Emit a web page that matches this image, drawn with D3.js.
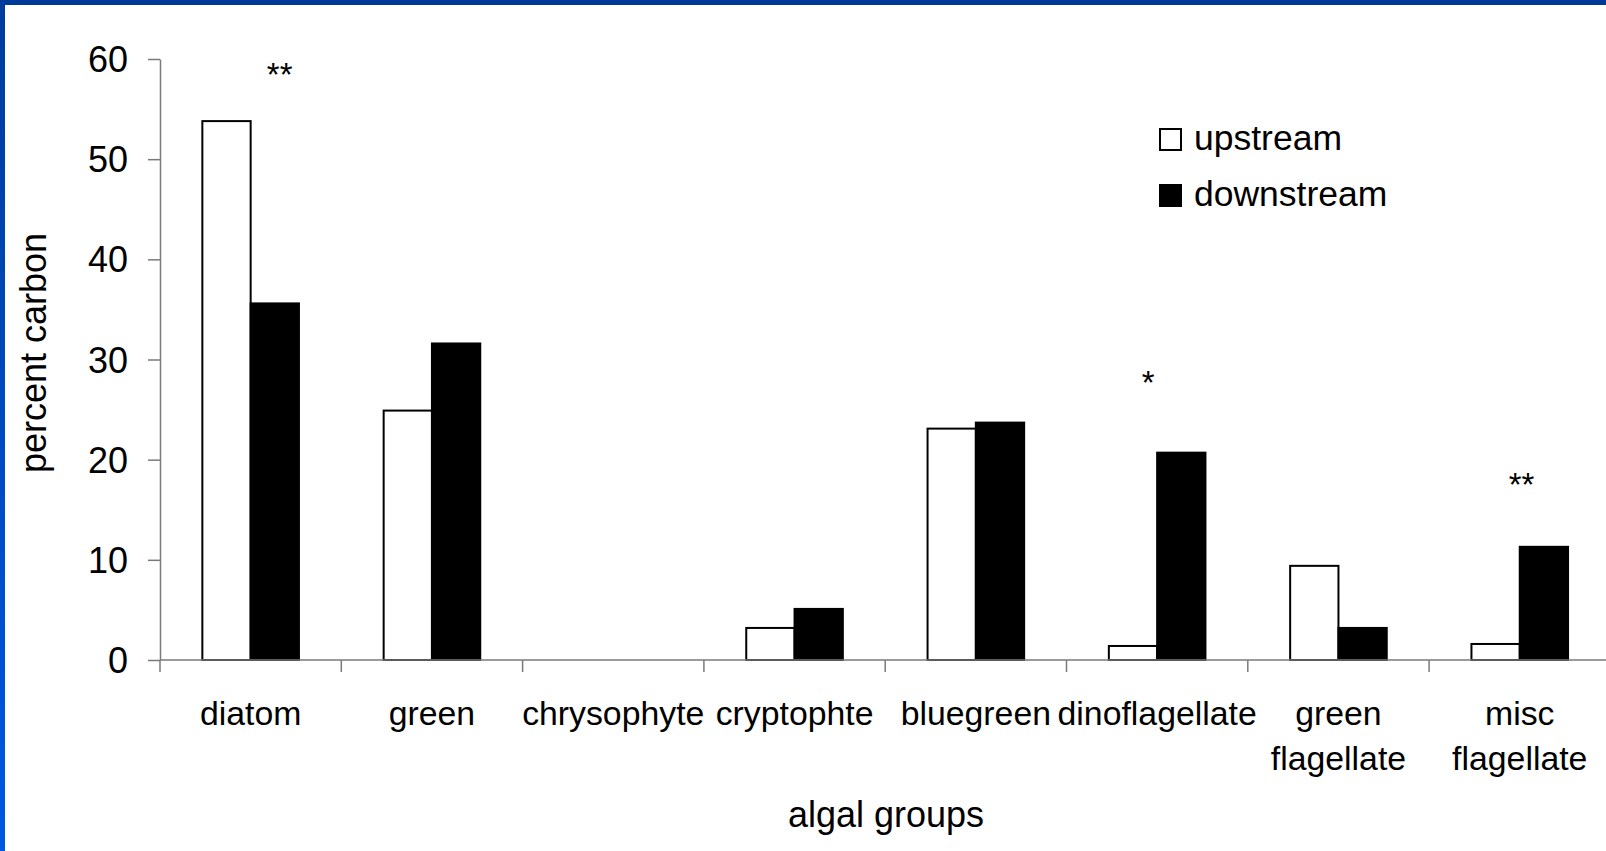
<!DOCTYPE html>
<html>
<head>
<meta charset="utf-8">
<script src="https://cdn.jsdelivr.net/npm/d3@7"></script>
<style>
  html, body { margin: 0; padding: 0; background: #ffffff; }
  svg { display: block; }
  text { font-family: "Liberation Sans", Arial, sans-serif; fill: #000; }
</style>
</head>
<body>
<svg id="chart" width="1606" height="851"></svg>
<script>
// ---- data ----
const categories = ["diatom", "green", "chrysophyte", "cryptophte", "bluegreen", "dinoflagellate", "green flagellate", "misc flagellate"];
const categoryLabels = [["diatom"], ["green"], ["chrysophyte"], ["cryptophte"], ["bluegreen"], ["dinoflagellate"], ["green", "flagellate"], ["misc", "flagellate"]];
const seriesNames = ["upstream", "downstream"];
const upstream = [53.8, 24.9, 0, 3.2, 23.1, 1.4, 9.4, 1.6];
const downstream = [35.6, 31.6, 0, 5.1, 23.7, 20.7, 3.2, 11.3];
const yTicks = [0, 10, 20, 30, 40, 50, 60];
const annotations = [
  { category: "diatom", label: "**", value: 57.35, shift: 0.16 },
  { category: "dinoflagellate", label: "*", value: 26.55, shift: -0.05 },
  { category: "misc flagellate", label: "**", value: 16.35, shift: 0.01 }
];

(function () {
// ---- layout ----
const svg = d3.select("#chart");
const W = 1606, H = 851;
const mLeft = 160, mTop = 59, mBottom = 660, step = 181.3;

// frame
const defs = svg.append("defs");
const grad = defs.append("linearGradient").attr("id", "lg").attr("x1", 0).attr("y1", 0).attr("x2", 0).attr("y2", 1);
grad.append("stop").attr("offset", "0%").attr("stop-color", "#003c9c");
grad.append("stop").attr("offset", "100%").attr("stop-color", "#0058e2");
svg.append("rect").attr("x", 0).attr("y", 0).attr("width", W).attr("height", H).attr("fill", "#fff");
svg.append("rect").attr("x", 0).attr("y", 0).attr("width", W).attr("height", 5).attr("fill", "#003a98");
svg.append("rect").attr("x", 0).attr("y", 0).attr("width", 5).attr("height", H).attr("fill", "url(#lg)");

const x = d3.scaleBand().domain(categories).range([mLeft, mLeft + step * categories.length]).padding(0);
const xs = d3.scaleBand().domain(seriesNames).range([0, x.bandwidth()]).paddingInner(0).paddingOuter(0.877);
const y = d3.scaleLinear().domain([0, 60]).range([mBottom, mTop]);

const axisColor = "#7a7a7a";

// y axis
const yAxis = svg.append("g").attr("transform", `translate(${mLeft},0)`)
  .call(d3.axisLeft(y).tickValues(yTicks).tickSize(12).tickSizeOuter(0).tickPadding(8));
yAxis.select(".domain").attr("stroke", axisColor).attr("stroke-width", 1.5);
yAxis.selectAll(".tick line").attr("stroke", axisColor).attr("stroke-width", 1.5);
yAxis.selectAll(".tick text")
  .attr("font-size", 36).attr("x", -32).attr("dy", "0.35em")
  .style("font-family", '"Liberation Sans", Arial, sans-serif').attr("fill", "#000");

// bars
const data = categories.map((c, i) => ({ c, vals: [upstream[i], downstream[i]] }));
const groups = svg.append("g").selectAll("g").data(data).join("g")
  .attr("transform", d => `translate(${x(d.c)},0)`);
groups.selectAll("rect").data(d => d.vals.map((v, k) => ({ v, s: seriesNames[k] })).filter(e => e.v > 0))
  .join("rect")
  .attr("x", d => xs(d.s))
  .attr("y", d => y(d.v))
  .attr("width", xs.bandwidth())
  .attr("height", d => y(0) - y(d.v))
  .attr("fill", d => d.s === "upstream" ? "#fff" : "#000")
  .attr("stroke", "#000")
  .attr("stroke-width", 2);

// x axis line and ticks at band edges
const xAxisG = svg.append("g");
xAxisG.append("line")
  .attr("x1", mLeft).attr("x2", W + 10).attr("y1", y(0)).attr("y2", y(0))
  .attr("stroke", axisColor).attr("stroke-width", 1.5);
xAxisG.selectAll("line.tk").data(categories).join("line").attr("class", "tk")
  .attr("x1", d => x(d)).attr("x2", d => x(d))
  .attr("y1", y(0)).attr("y2", y(0) + 12)
  .attr("stroke", axisColor).attr("stroke-width", 1.5);

// category labels
const lbl = xAxisG.selectAll("text.cl").data(categories).join("text").attr("class", "cl")
  .attr("text-anchor", "middle").attr("font-size", 33.8)
  .attr("y", 725);
lbl.each(function (d, i) {
  const t = d3.select(this);
  categoryLabels[i].forEach((line, j) => {
    t.append("tspan").attr("x", x(d) + x.bandwidth() / 2).attr("dy", j === 0 ? 0 : 44.5).text(line);
  });
});

// axis titles
svg.append("text").attr("text-anchor", "middle").attr("font-size", 36)
  .attr("x", 886).attr("y", 827).text("algal groups");
svg.append("text").attr("text-anchor", "middle").attr("font-size", 36)
  .attr("transform", `translate(46,353) rotate(-90)`).text("percent carbon");

// significance annotations
svg.append("g").selectAll("text").data(annotations).join("text")
  .attr("text-anchor", "middle").attr("font-size", 33)
  .attr("x", d => x(d.category) + x.bandwidth() * (0.5 + d.shift))
  .attr("y", d => y(d.value))
  .text(d => d.label);

// legend
const legend = svg.append("g");
const legY = [150, 206];
seriesNames.forEach((s, i) => {
  legend.append("rect").attr("x", 1160).attr("y", legY[i] - 21).attr("width", 21).attr("height", 21)
    .attr("fill", s === "upstream" ? "#fff" : "#000").attr("stroke", "#000").attr("stroke-width", 2);
  legend.append("text").attr("x", 1194).attr("y", legY[i]).attr("font-size", 35.5).text(s);
});
})();
</script>
</body>
</html>
